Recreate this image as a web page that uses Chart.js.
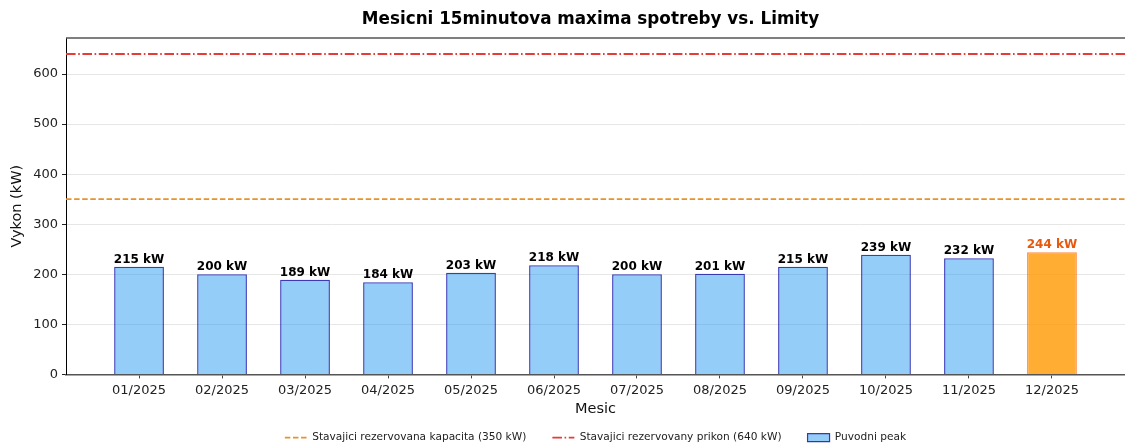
<!DOCTYPE html>
<html>
<head>
<meta charset="utf-8">
<script src="https://cdn.jsdelivr.net/npm/chart.js@4.4.1/dist/chart.umd.min.js"></script>
<style>
  html, body { margin: 0; padding: 0; background: #fff; }
  #wrap { width: 1125px; height: 446px; }
</style>
</head>
<body>
<div id="wrap"><canvas id="peakChart" width="1125" height="446"></canvas></div>
<script>
// monthly data
const months = ['01/2025', '02/2025', '03/2025', '04/2025', '05/2025', '06/2025',
                '07/2025', '08/2025', '09/2025', '10/2025', '11/2025', '12/2025'];
const peaks = [215, 200, 189, 184, 203, 218, 200, 201, 215, 239, 232, 244];
const capacityLimit = 350;
const inputLimit = 640;
const yTicks = [0, 100, 200, 300, 400, 500, 600];

// axis limits (matplotlib style margins)
const xMin = -0.88;
const xMax = 11.88;
const yMax = 672;

const FONT = "'DejaVu Sans', 'Liberation Sans', sans-serif";
const lastIdx = peaks.length - 1;
const LEGEND_PAD = 26;

const barFill = peaks.map((v, i) => i === lastIdx ? 'rgba(255,152,0,0.8)' : 'rgba(33,150,243,0.48)');
const barEdge = peaks.map((v, i) => i === lastIdx ? 'rgba(255,110,20,0.8)' : 'rgba(25,25,170,0.85)');

// title centered over the plot area
const titlePlugin = {
    id: 'axTitle',
    afterDraw(chart) {
        const { ctx, chartArea } = chart;
        ctx.save();
        ctx.font = 'bold 16.8px ' + FONT;
        ctx.fillStyle = '#000';
        ctx.textAlign = 'center';
        ctx.textBaseline = 'middle';
        ctx.fillText('Mesicni 15minutova maxima spotreby vs. Limity', (chartArea.left + chartArea.right) / 2 - 5, 20);
        ctx.restore();
    }
};

// top spine
const framePlugin = {
    id: 'frame',
    afterDraw(chart) {
        const { ctx, chartArea } = chart;
        ctx.save();
        ctx.strokeStyle = '#555';
        ctx.lineWidth = 1.5;
        ctx.beginPath();
        ctx.moveTo(chartArea.left, chartArea.top);
        ctx.lineTo(chartArea.right, chartArea.top);
        ctx.stroke();
        ctx.restore();
    }
};

// center the legend under the plot area instead of the canvas
const legendShift = {
    id: 'legendShift',
    afterLayout(chart) {
        const lg = chart.legend;
        if (!lg) return;
        const dx = (chart.chartArea.left + chart.chartArea.right) / 2 - (lg.left + lg.right) / 2;
        lg.left += dx;
        lg.right += dx;
    }
};

// value labels above bars
const valueLabels = {
    id: 'valueLabels',
    afterDatasetsDraw(chart) {
        const { ctx } = chart;
        const idx = chart.data.datasets.findIndex(d => d.type === 'bar');
        const meta = chart.getDatasetMeta(idx);
        ctx.save();
        ctx.font = 'bold 12px ' + FONT;
        ctx.textAlign = 'center';
        ctx.textBaseline = 'bottom';
        meta.data.forEach((bar, i) => {
            ctx.fillStyle = i === lastIdx ? '#E8590C' : '#000';
            ctx.fillText(peaks[i] + ' kW', bar.x, bar.y - 1);
        });
        ctx.restore();
    }
};

const ctx = document.getElementById('peakChart').getContext('2d');
new Chart(ctx, {
    type: 'bar',
    data: {
        datasets: [
            {
                type: 'line',
                label: 'Stavajici rezervovana kapacita (' + capacityLimit + ' kW)',
                data: [{ x: xMin, y: capacityLimit }, { x: xMax, y: capacityLimit }],
                borderColor: '#E8922A',
                backgroundColor: '#E8922A',
                borderWidth: 1.7,
                borderDash: [5.5, 2.6],
                pointRadius: 0,
                pointStyle: 'line',
                fill: false,
            },
            {
                type: 'line',
                label: 'Stavajici rezervovany prikon (' + inputLimit + ' kW)',
                data: [{ x: xMin, y: inputLimit }, { x: xMax, y: inputLimit }],
                borderColor: '#E63B37',
                backgroundColor: '#E63B37',
                borderWidth: 1.8,
                borderDash: [9.6, 2.6, 1.6, 2.6],
                pointRadius: 0,
                pointStyle: 'line',
                fill: false,
            },
            {
                type: 'bar',
                label: 'Puvodni peak',
                data: peaks.map((v, i) => ({ x: i, y: v })),
                backgroundColor: barFill,
                borderColor: barEdge,
                borderWidth: 1.3,
                categoryPercentage: 1.0,
                barPercentage: 0.6,
            },
        ],
    },
    options: {
        responsive: false,
        animation: false,
        events: [],
        layout: { padding: { top: 38, left: 0, right: -4, bottom: -7 } },
        plugins: {
            title: { display: false },
            tooltip: { enabled: false },
            legend: {
                position: 'bottom',
                labels: {
                    usePointStyle: true,
                    pointStyleWidth: 22,
                    boxHeight: 8,
                    padding: LEGEND_PAD,
                    color: '#222',
                    font: { family: FONT, size: 10.6 },
                    generateLabels(chart) {
                        const items = Chart.defaults.plugins.legend.labels.generateLabels(chart);
                        items.forEach(item => {
                            const ds = chart.data.datasets[item.datasetIndex];
                            if (ds.type === 'line') {
                                item.pointStyle = 'line';
                                item.lineWidth = 1.7;
                                item.strokeStyle = ds.borderColor;
                                item.lineDash = ds.borderDash;
                            } else {
                                item.pointStyle = 'rect';
                                item.lineWidth = 1.2;
                                item.fillStyle = barFill[0];
                                item.strokeStyle = barEdge[0];
                            }
                        });
                        return items;
                    },
                },
            },
        },
        scales: {
            x: {
                type: 'linear',
                min: xMin,
                max: xMax,
                offset: false,
                afterBuildTicks(scale) {
                    scale.ticks = months.map((m, i) => ({ value: i }));
                },
                afterFit(scale) { scale.height = 32; },
                ticks: {
                    callback: (v) => months[v],
                    color: '#222',
                    font: { family: FONT, size: 13 },
                    padding: 4,
                    maxRotation: 0,
                    autoSkip: false,
                },
                grid: {
                    offset: false,
                    drawOnChartArea: false,
                    tickLength: 4,
                    tickColor: '#444',
                },
                border: { color: '#555', width: 1.5 },
                title: {
                    display: true,
                    text: 'Mesic',
                    color: '#111',
                    font: { family: FONT, size: 14.5 },
                    padding: { top: 0, bottom: -11.5 },
                },
            },
            y: {
                min: 0,
                max: yMax,
                afterBuildTicks(scale) {
                    scale.ticks = yTicks.map(v => ({ value: v }));
                },
                afterFit(scale) { scale.width = 66; },
                ticks: {
                    color: '#222',
                    font: { family: FONT, size: 13 },
                    padding: 4,
                },
                grid: {
                    color: '#e6e6e6',
                    lineWidth: 1,
                    tickLength: 4,
                    tickColor: '#222',
                },
                border: { color: '#000', width: 1 },
                title: {
                    display: true,
                    text: 'Vykon (kW)',
                    color: '#111',
                    font: { family: FONT, size: 14.5 },
                    padding: { top: 9, bottom: 0 },
                },
            },
        },
    },
    plugins: [titlePlugin, framePlugin, legendShift, valueLabels],
});
</script>
</body>
</html>
